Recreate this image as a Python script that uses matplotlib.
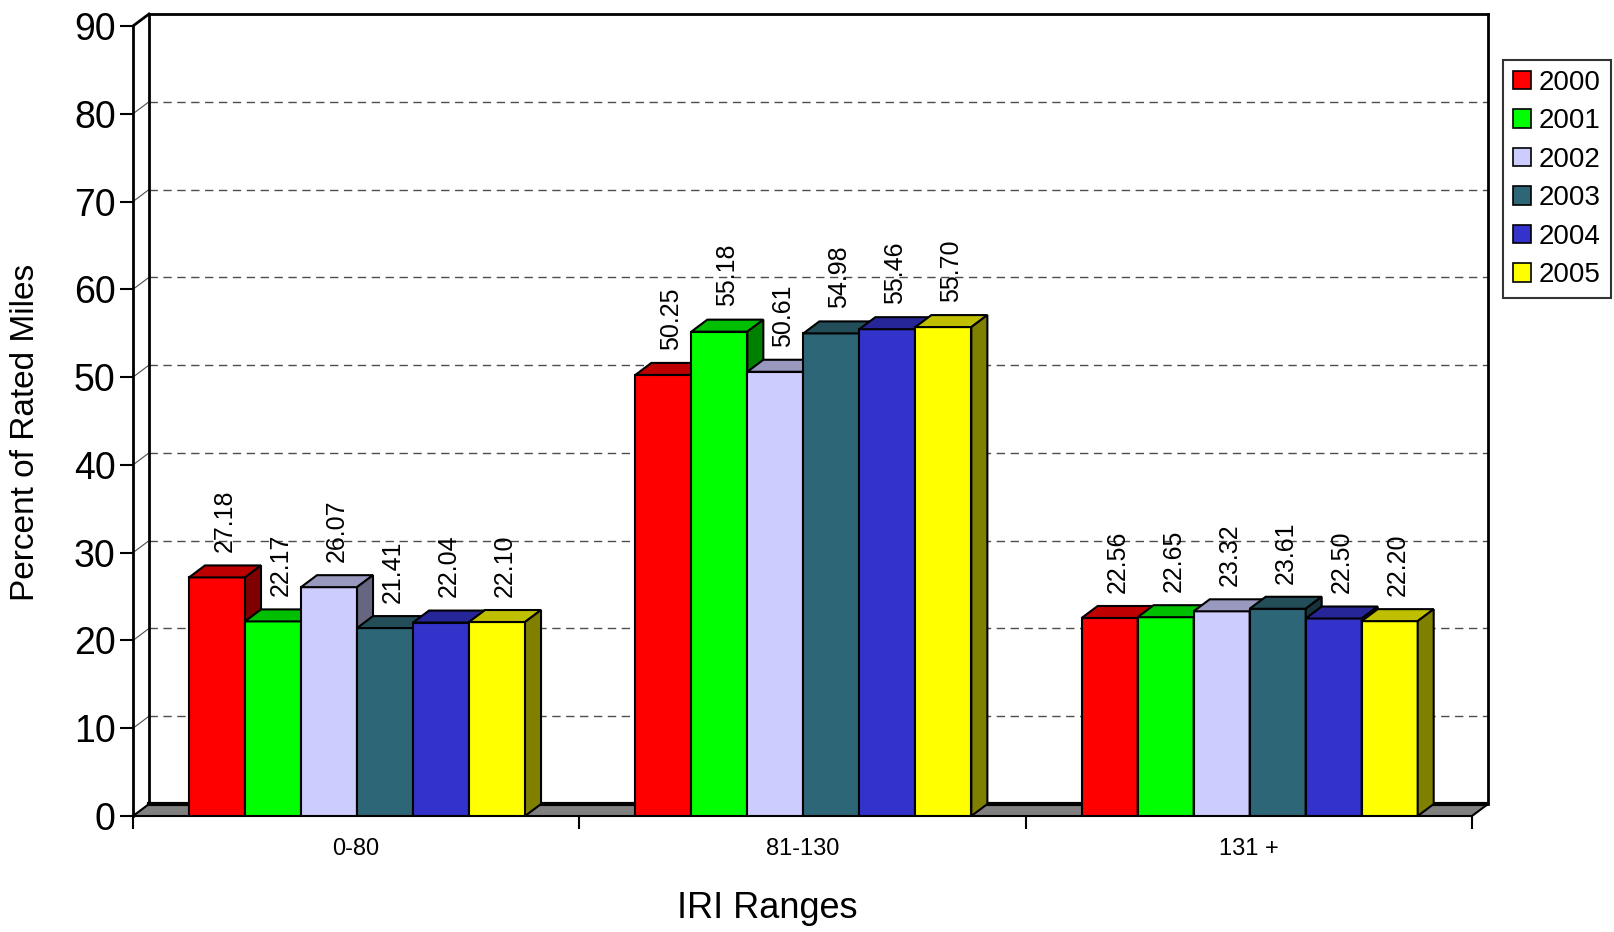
import numpy as np
import matplotlib.pyplot as plt
from matplotlib.patches import Polygon, Patch
from matplotlib.colors import to_rgb

plt.rcParams['font.family'] = ['Liberation Sans', 'DejaVu Sans']

categories = ['0-80', '81-130', '131 +']
years = ['2000', '2001', '2002', '2003', '2004', '2005']
values = {
    '2000': [27.18, 50.25, 22.56],
    '2001': [22.17, 55.18, 22.65],
    '2002': [26.07, 50.61, 23.32],
    '2003': [21.41, 54.98, 23.61],
    '2004': [22.04, 55.46, 22.50],
    '2005': [22.10, 55.70, 22.20],
}
colors = ['#FF0000', '#00FF00', '#CCCCFF', '#2D6677', '#3333CC', '#FFFF00']
yticks = np.arange(0, 100, 10)

def shade(c, f):
    r, g, b = to_rgb(c)
    return (r*f, g*f, b*f)

fig = plt.figure(figsize=(16.14, 9.32), dpi=100)
ax = fig.add_axes([133/1614, 1-816/932, (1488-133)/1614, (816-14)/932])

ncat = len(categories)
dx = 16/446.3          # depth offset, x units
dy = 12/8.789          # depth offset, y units
w = 56/446.3           # bar width
ymax = 90

ax.set_xlim(0, ncat + dx)
ax.set_ylim(0, ymax + dy)
for s in ax.spines.values():
    s.set_visible(False)

# back wall gridlines + left wall diagonals
for v in yticks[1:-1]:
    ax.plot([dx, ncat + dx], [v + dy, v + dy], color='#4d4d4d', lw=1,
            ls=(0, (6, 4)), zorder=1)
    ax.plot([0, dx], [v, v + dy], color='#4d4d4d', lw=0.8, zorder=1)

# walls outline
lw_ax = 2
ax.plot([0, 0], [0, ymax], color='black', lw=lw_ax, zorder=2, clip_on=False)
ax.plot([dx, dx], [dy, ymax + dy], color='black', lw=lw_ax, zorder=2, clip_on=False)
ax.plot([0, dx], [ymax, ymax + dy], color='black', lw=lw_ax, zorder=2, clip_on=False)
ax.plot([dx, ncat + dx], [ymax + dy, ymax + dy], color='black', lw=lw_ax, zorder=2, clip_on=False)
ax.plot([ncat + dx, ncat + dx], [dy, ymax + dy], color='black', lw=lw_ax, zorder=2, clip_on=False)

# floor
ax.add_patch(Polygon([(0, 0), (ncat, 0), (ncat + dx, dy), (dx, dy)],
                     closed=True, facecolor='#808080', edgecolor='black',
                     lw=1.5, zorder=2, clip_on=False))
ax.plot([dx, ncat + dx], [dy, dy], color='black', lw=3, zorder=2)

# bars
z = 3
for i in range(ncat):
    x0 = i + w
    for j, yr in enumerate(years):
        h = values[yr][i]
        xl = x0 + j*w
        xr = xl + w
        c = colors[j]
        ax.add_patch(Polygon([(xl, 0), (xr, 0), (xr, h), (xl, h)], closed=True,
                             facecolor=c, edgecolor='black', lw=1.5, zorder=z))
        ax.add_patch(Polygon([(xl, h), (xr, h), (xr + dx, h + dy), (xl + dx, h + dy)],
                             closed=True, facecolor=shade(c, 0.75),
                             edgecolor='black', lw=1.5, zorder=z))
        ax.add_patch(Polygon([(xr, 0), (xr + dx, dy), (xr + dx, h + dy), (xr, h)],
                             closed=True, facecolor=shade(c, 0.5),
                             edgecolor='black', lw=1.5, zorder=z))
        ax.text(xl + w/2 + dx/2, h + dy + 1.5, f'{h:.2f}', rotation=90,
                ha='center', va='bottom', fontsize=18, zorder=20)
        z += 1

# y axis ticks
ax.set_yticks(yticks)
ax.set_yticklabels([str(v) for v in yticks], fontsize=27)
ax.tick_params(axis='y', length=9.5, width=1.5, pad=3)

# x axis ticks
ax.set_xticks(np.arange(ncat + 1))
ax.set_xticklabels([])
ax.set_xticks(np.arange(ncat) + 0.5, minor=True)
ax.set_xticklabels(categories, minor=True, fontsize=17)
ax.tick_params(axis='x', which='major', length=9, width=1.5)
ax.tick_params(axis='x', which='minor', length=0, pad=16)

fig.text(26/1614, 1 - 432/932, 'Percent of Rated Miles', rotation=90,
         ha='center', va='center', fontsize=24)
fig.text(767/1614, 1 - 909/932, 'IRI Ranges', ha='center', va='center',
         fontsize=26)

handles = [Patch(facecolor=c, edgecolor='black', lw=1.2) for c in colors]
leg = fig.legend(handles, years, loc='upper left',
                 bbox_to_anchor=(1503/1614, 1 - 60/932), fontsize=20,
                 frameon=True, fancybox=False, edgecolor='black',
                 handlelength=0.65, handleheight=0.65, handletextpad=0.3,
                 labelspacing=0.45, borderpad=0.35, borderaxespad=0)
leg.get_frame().set_linewidth(1.5)

fig.savefig('out.png', dpi=100)
